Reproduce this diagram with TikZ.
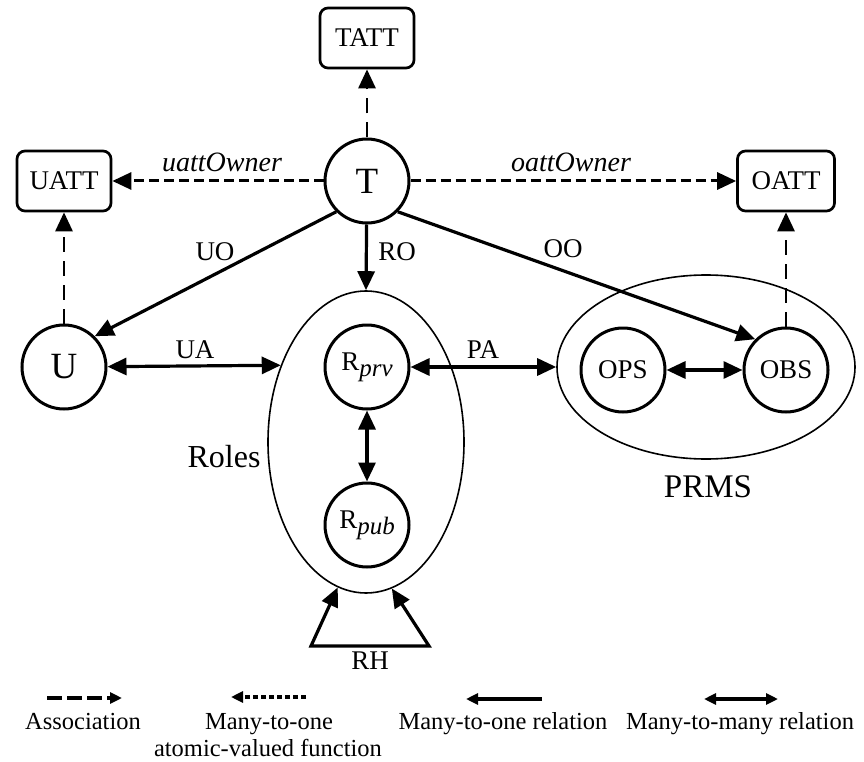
\documentclass[tikz,border=0pt]{standalone}
\usepackage{fontspec}
\setmainfont{Liberation Serif}
\usetikzlibrary{arrows.meta,shapes.geometric}

\newcommand{\rsub}[1]{\raisebox{-6pt}{\fontsize{25}{25}\selectfont\itshape #1}}

\begin{document}
\begin{tikzpicture}[x=1pt,y=-1pt,
    ent/.style={circle,draw,line width=3pt,minimum size=84pt,inner sep=0pt,font=\fontsize{27}{30}\selectfont},
    attbox/.style={rectangle,rounded corners=8pt,draw,line width=2.7pt,minimum width=94pt,minimum height=60pt,inner sep=0pt,font=\fontsize{27}{30}\selectfont},
    setring/.style={ellipse,draw,line width=1.6pt,inner sep=0pt},
    lbl/.style={inner sep=0pt,font=\fontsize{27}{30}\selectfont},
    legtxt/.style={inner sep=0pt,anchor=base,font=\fontsize{24.5}{28}\selectfont},
    rel/.style={line width=3.2pt,-{Triangle[length=19pt,width=17pt]}},
    relboth/.style={line width=3.2pt,{Triangle[length=19pt,width=17pt]}-{Triangle[length=19pt,width=17pt]}},
    assoc/.style={line width=3pt,dash pattern=on 10pt off 5pt,-{Triangle[length=19pt,width=17pt]}},
    assocv/.style={line width=2.8pt,dash pattern=on 15pt off 9pt,-{Triangle[length=19pt,width=17pt]}},
    legtip/.style={line width=3.2pt,-{Triangle[length=12pt,width=11pt]}}
  ]
  \useasboundingbox (0,0) rectangle (864,762);

  % entities
  \node[attbox] (tatt) at (367,38) {TATT};
  \node[ent,font=\fontsize{37}{40}\selectfont] (t) at (367,181) {T};
  \node[attbox] (uatt) at (64,181) {UATT};
  \node[attbox,minimum width=97pt] (oatt) at (786,181) {OATT};
  \node[ent,font=\fontsize{37}{40}\selectfont] (u) at (64,367) {U};

  \node[setring,minimum width=196pt,minimum height=302pt] (roles) at (366,442) {};
  \node[ent] (rprv) at (367,367) {R\rsub{prv}};
  \node[ent] (rpub) at (367,525) {R\rsub{pub}};

  \node[setring,minimum width=298pt,minimum height=184pt] (prms) at (706,367) {};
  \node[ent] (ops) at (623,370) {OPS};
  \node[ent] (obs) at (786,370) {OBS};

  % labels
  \node[lbl,font=\fontsize{28}{30}\selectfont\itshape] (uown) at (222,162) {uattOwner};
  \node[lbl,font=\fontsize{28}{30}\selectfont\itshape] (oown) at (571,162) {oattOwner};
  \node[lbl] (uo) at (215,252) {UO};
  \node[lbl] (ro) at (397,252) {RO};
  \node[lbl] (oo) at (563,249) {OO};
  \node[lbl] (ua) at (195,350) {UA};
  \node[lbl] (pa) at (483,350) {PA};
  \node[lbl,font=\fontsize{32}{34}\selectfont] (roleslbl) at (224,457) {Roles};
  \node[lbl,font=\fontsize{33}{35}\selectfont] (prmslbl) at (708,487) {PRMS};
  \node[lbl] (rh) at (370,661) {RH};

  % attribute functions
  \draw[assocv] (t) -- (tatt);
  \draw[assoc] (t) -- (uatt);
  \draw[assoc] (t) -- (oatt);
  \draw[assocv] (u) -- (uatt);
  \draw[assocv] (obs) -- (oatt);

  % relations
  \draw[rel] (t.225) -- (u.45);
  \draw[rel] (t) -- (roles.north);
  \draw[rel] (t.315) -- (obs.135);
  \draw[relboth] (u) -- (roles.138.6);
  \draw[relboth] (rprv) -- (prms.west);
  \draw[relboth] (rprv) -- (rpub);
  \draw[relboth] (ops) -- (obs);

  \coordinate (rhl) at (311,646);
  \coordinate (rhr) at (429,646);
  \draw[relboth] (roles.259.5) -- (rhl) -- (rhr) -- (roles.280.5);

  % legend
  \coordinate (a1) at (47,698);
  \coordinate (a2) at (122,698);
  \coordinate (f1) at (306,697);
  \coordinate (f2) at (231,697);
  \coordinate (m1) at (542,699);
  \coordinate (m2) at (466,699);
  \coordinate (n1) at (704,699);
  \coordinate (n2) at (778,699);
  \draw[legtip,dash pattern=on 15pt off 5pt] (a1) -- (a2);
  \draw[legtip,dash pattern=on 5pt off 3pt] (f1) -- (f2);
  \draw[legtip] (m1) -- (m2);
  \draw[legtip,{Triangle[length=12pt,width=11pt]}-{Triangle[length=12pt,width=11pt]}] (n1) -- (n2);

  \node[legtxt] (assoclbl) at (83,729) {Association};
  \node[legtxt] (funclbl) at (269,729) {Many-to-one};
  \node[legtxt] (funclbl2) at (268,756) {atomic-valued function};
  \node[legtxt] (m1lbl) at (503,729) {Many-to-one relation};
  \node[legtxt] (mmlbl) at (740,729) {Many-to-many relation};
\end{tikzpicture}
\end{document}
